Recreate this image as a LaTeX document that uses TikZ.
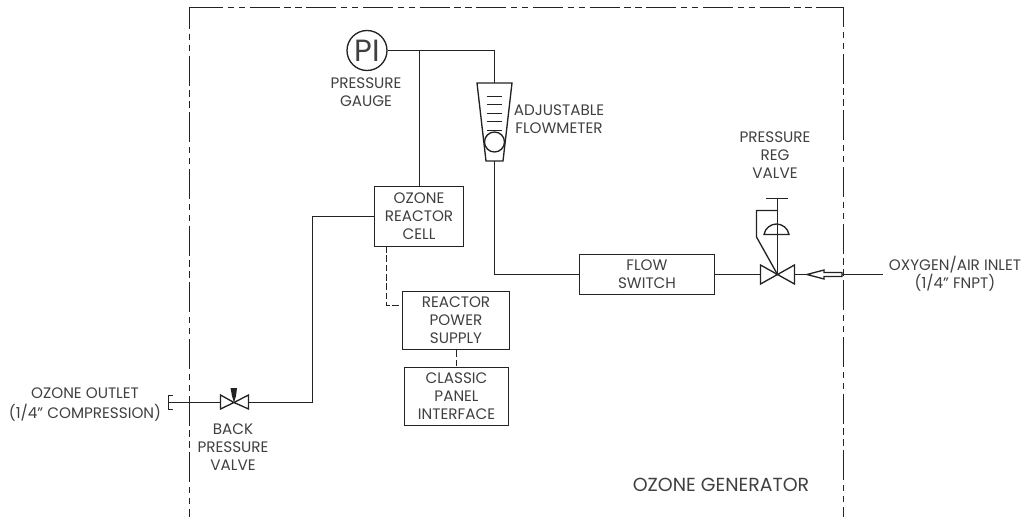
\documentclass[tikz,border=0pt]{standalone}
\usepackage{fontspec}
\setmainfont{Poppins}
\definecolor{labelgrey}{RGB}{64,64,64}
\definecolor{linegrey}{RGB}{35,35,35}
\tikzset{every picture/.style={line width=1pt}}
\tikzset{
	pipe/.style={draw=linegrey,line width=1pt},
	signal/.style={draw=linegrey,line width=1pt,dash pattern=on 5pt off 2pt},
	boundary/.style={draw=linegrey,line width=1pt,dash pattern=on 22.5pt off 3.4pt on 4.9pt off 3.4pt on 4.9pt off 3.4pt},
	lbl/.style={inner sep=0pt,align=center,text=labelgrey,font=\fontsize{11.4}{13.5}\selectfont},
	blockbox/.style={rectangle,draw=linegrey,line width=1pt,inner sep=0pt,align=center,text=labelgrey,font=\fontsize{11.4}{13.5}\selectfont}
}

\begin{document}
\begin{tikzpicture}[x=0.75pt,y=0.75pt,yscale=-1,xscale=1]
	\useasboundingbox (0,0) rectangle (1026,517);

	%Shape: generator boundary
	\draw [boundary,dash phase=3.75pt] (193,7.5) -- (189.5,7.5) -- (189.5,517) ;
	\draw [boundary] (193,7.5) -- (842,7.5) ;
	\draw [boundary,dash phase=5.25pt] (840,7.5) -- (843.5,7.5) -- (843.5,517) ;

	%Blocks
	\node (cell) [blockbox,minimum width=66.75pt,minimum height=45pt] at (419,216.5) {OZONE\\REACTOR\\CELL};
	\node (power) [blockbox,minimum width=80.25pt,minimum height=43.5pt] at (456,320.5) {REACTOR\\POWER\\SUPPLY};
	\node (panel) [blockbox,minimum width=78pt,minimum height=43.5pt] at (456.5,396.5) {CLASSIC\\PANEL\\INTERFACE};
	\node (switch) [blockbox,minimum width=101.25pt,minimum height=30pt] at (647,274.5) {FLOW\\SWITCH};
	\node (gauge) [circle,draw=linegrey,line width=1pt,minimum size=30pt,inner sep=0pt,text=labelgrey,font=\fontsize{23}{23}\selectfont] at (367,50.5) {PI};

	%Named ends
	\coordinate (teetop) at (419.5,50.5);
	\coordinate (fmtop) at (494.5,83);
	\coordinate (fmbottom) at (494.5,161);
	\coordinate (fmcorner) at (494.5,274.5);
	\coordinate (regvalve) at (777.5,274.5);
	\coordinate (regleft) at (760.5,274.5);
	\coordinate (regright) at (794.5,274.5);
	\coordinate (arrowtip) at (807,274.5);
	\coordinate (inletend) at (883,274.5);
	\coordinate (arrowtail) at (842,274.5);
	\coordinate (backvalve) at (234,402.5);
	\coordinate (backleft) at (220.5,402.5);
	\coordinate (backright) at (248.5,402.5);
	\coordinate (outletcap) at (168.5,402.5);
	\coordinate (outcorner) at (312.5,402.5);

	%Pipes
	\draw [pipe] (gauge) -- (teetop) -- (494.5,50.5) -- (fmtop) ;
	\draw [pipe] (teetop) -- (cell.north -| teetop) ;
	\draw [pipe] (fmbottom) -- (fmcorner) -- (switch.west |- fmcorner) ;
	\draw [pipe] (switch.east |- regleft) -- (regleft) ;
	\draw [pipe] (regright) -- (arrowtip) ;
	\draw [pipe] (arrowtail) -- (inletend) ;
	\draw [pipe] (outletcap) -- (backleft) ;
	\draw [pipe] (backright) -- (outcorner) -- (312.5,216.5) -- (cell.west |- 312.5,216.5) ;

	%Signals
	\draw [signal] (386.5,246) -- (386.5,305.5) -- (power.west |- 386.5,305.5) ;
	\draw [signal] (power.south -| 456.5,0) -- (panel.north -| 456.5,0) ;

	%Shape: Flowmeter
	\draw [pipe] (477,83) -- (512,83) -- (503,161) -- (486,161) -- cycle ;
	\foreach \yy in {96.5,104.5,113.5,121.5,130.5} {
		\draw [pipe] (487,\yy) -- (502,\yy) ;
	}
	\draw [pipe] (494.5,142) circle (10) ;

	%Shape: Pressure reg valve
	\draw [pipe] (regvalve) -- (regleft |- 265,265) -- (regleft |- 284,284) -- cycle ;
	\draw [pipe] (regvalve) -- (regright |- 265,265) -- (regright |- 284,284) -- cycle ;
	\draw [pipe] (regvalve) -- (777.5,198.5) ;
	\draw [pipe] (766,198.5) -- (788,198.5) ;
	\draw [pipe] (764,234.5) .. controls (765,228) and (771,224) .. (776.5,224) .. controls (782,224) and (788,228) .. (789,234.5) -- cycle ;
	\draw [pipe] (777.5,210.5) -- (756.5,210.5) -- (756.5,237) -- (regvalve) ;

	%Shape: Open arrow
	\draw [pipe,fill=white] (arrowtip) -- (824,270) -- (824,272.5) -- (arrowtail |- 272.5,272.5) -- (arrowtail |- 276.5,276.5) -- (824,276.5) -- (824,279) -- cycle ;

	%Shape: Back pressure valve
	\draw [pipe] (backvalve) -- (220.5,395) -- (220.5,409) -- cycle ;
	\draw [pipe] (backvalve) -- (248.5,395) -- (248.5,409) -- cycle ;
	\fill [linegrey] (230.5,388) -- (237,388) -- (236,396) -- (backvalve) -- (232,396) -- cycle ;

	%Shape: Outlet cap
	\draw [pipe] (173,395.5) -- (168.5,395.5) -- (168.5,409.5) -- (173,409.5) ;

	%Labels
	\node (gaugelbl) [lbl] at (366,92) {PRESSURE\\GAUGE};
	\node (fmlbl) [lbl] at (559,119.5) {ADJUSTABLE\\FLOWMETER};
	\node (reglbl) [lbl] at (775,155) {PRESSURE\\REG\\VALVE};
	\node (inletlbl) [lbl] at (955,273.5) {OXYGEN/AIR INLET\\(1/4" FNPT)};
	\node (outletlbl) [lbl] at (85,404.5) {OZONE OUTLET\\[1.2pt](1/4" COMPRESSION)};
	\node (backlbl) [lbl] at (233,447.5) {BACK\\PRESSURE\\VALVE};
	\node (genlbl) [lbl,font=\fontsize{14.2}{16}\selectfont] at (721,485) {OZONE GENERATOR};
\end{tikzpicture}
\end{document}
